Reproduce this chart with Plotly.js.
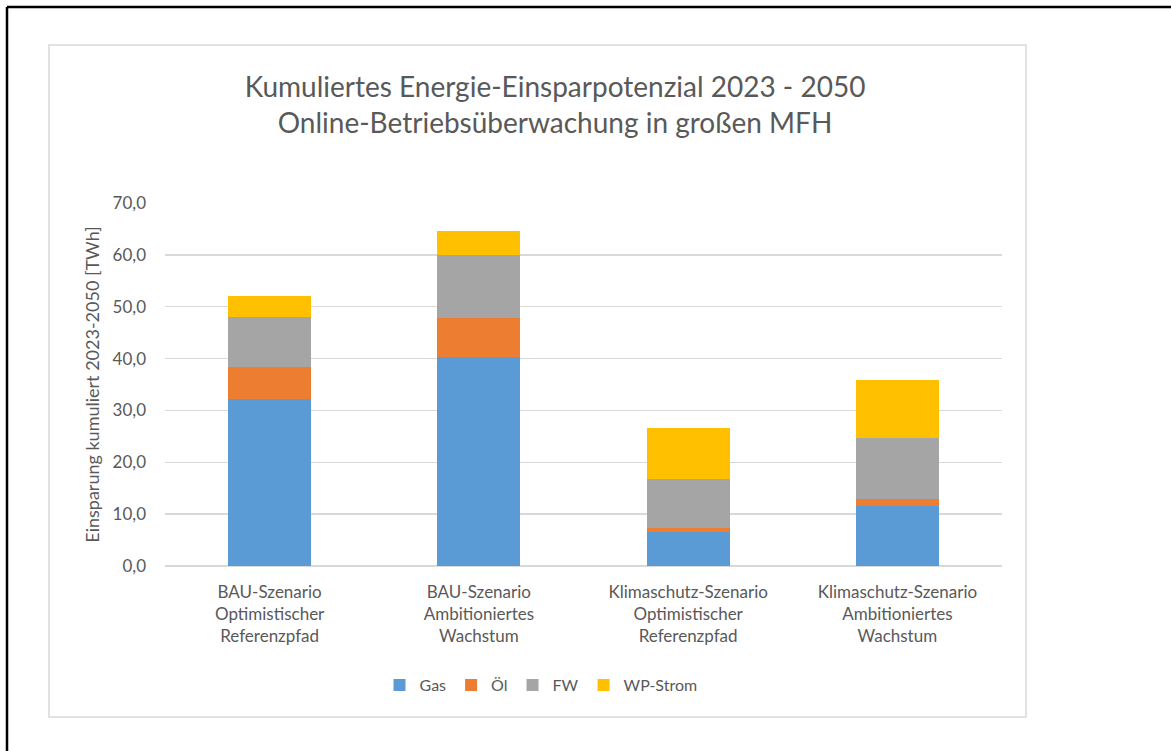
<!DOCTYPE html>
<html>
<head>
<meta charset="utf-8">
<script src="https://cdn.plot.ly/plotly-3.0.1.min.js"></script>
<style>
  html, body { margin: 0; padding: 0; background: #ffffff; }
  #chart { width: 1171px; height: 751px; }
</style>
</head>
<body>
<div id="chart"></div>
<script>
// ---- data ----
const categories = [
  "BAU-Szenario<br>Optimistischer<br>Referenzpfad",
  "BAU-Szenario<br>Ambitioniertes<br>Wachstum",
  "Klimaschutz-Szenario<br>Optimistischer<br>Referenzpfad",
  "Klimaschutz-Szenario<br>Ambitioniertes<br>Wachstum"
];
const seriesNames = ["Gas", "Öl", "FW", "WP-Strom"];
const gas     = [32.2, 40.4, 6.6, 11.5];
const oel     = [6.1, 7.4, 0.75, 1.35];
const fw      = [9.7, 12.1, 9.45, 11.9];
const wpStrom = [4.1, 4.75, 9.9, 11.1];
const colors  = ["#5B9BD5", "#ED7D31", "#A5A5A5", "#FFC000"];

// ---- layout geometry ----
const W = 1171, H = 751;
const M = { l: 165, r: 169, t: 203, b: 185 };
const pw = W - M.l - M.r, ph = H - M.t - M.b;
const px = x => (x - M.l) / pw;
const py = y => (H - M.b - y) / ph;

const FONT = "Lato, 'Open Sans', sans-serif";
const TXT = "#595959";

const values = [gas, oel, fw, wpStrom];
const traces = values.map((v, i) => ({
  type: "bar",
  name: seriesNames[i],
  x: categories,
  y: v,
  marker: { color: colors[i], line: { width: 0 } },
  hoverinfo: "y+name"
}));

const layout = {
  width: W, height: H,
  margin: M,
  barmode: "stack",
  bargap: 0.603,
  separators: ",.",
  paper_bgcolor: "#ffffff",
  plot_bgcolor: "#ffffff",
  font: { family: FONT, color: TXT, size: 16 },
  title: {
    text: "Kumuliertes Energie-Einsparpotenzial 2023 - 2050<br>Online-Betriebsüberwachung in großen MFH",
    font: { family: FONT, size: 28, color: TXT },
    xref: "container", x: 555 / W, xanchor: "center",
    yref: "container", y: 1 - 97 / H, yanchor: "middle"
  },
  xaxis: {
    type: "category",
    showgrid: false,
    zeroline: false,
    showline: false,
    ticks: "",
    ticklabelstandoff: 14,
    tickfont: { family: FONT, size: 17, color: TXT },
    automargin: false
  },
  yaxis: {
    range: [0, 70],
    dtick: 10,
    tickformat: ".1f",
    showgrid: true,
    gridcolor: "#d9d9d9",
    gridwidth: 1.5,
    zeroline: true,
    zerolinecolor: "#d9d9d9",
    zerolinewidth: 1.5,
    showline: false,
    ticks: "",
    ticklabelstandoff: 18,
    tickfont: { family: FONT, size: 17, color: TXT },
    title: {
      text: "Einsparung kumuliert 2023-2050 [TWh]",
      font: { family: FONT, size: 18, color: TXT },
      standoff: 8
    },
    automargin: false
  },
  showlegend: true,
  legend: {
    orientation: "h",
    x: px(541), xanchor: "center",
    y: py(685), yanchor: "middle",
    font: { family: FONT, size: 16, color: TXT },
    traceorder: "normal",
    itemwidth: 30,
    bgcolor: "rgba(0,0,0,0)"
  },
  shapes: [
    // inner chart frame
    { type: "rect", xref: "paper", yref: "paper",
      x0: px(49), x1: px(1026), y0: py(717), y1: py(45),
      line: { color: "#d9d9d9", width: 1.5 }, fillcolor: "rgba(0,0,0,0)", layer: "below" },
    // outer black border (top and left)
    { type: "line", xref: "paper", yref: "paper",
      x0: px(7), x1: px(1180), y0: py(7), y1: py(7),
      line: { color: "#000000", width: 2.5 } },
    { type: "line", xref: "paper", yref: "paper",
      x0: px(7), x1: px(7), y0: py(7), y1: py(760),
      line: { color: "#000000", width: 2.5 } }
  ]
};

Plotly.newPlot("chart", traces, layout, { displayModeBar: false, staticPlot: true });
</script>
</body>
</html>
